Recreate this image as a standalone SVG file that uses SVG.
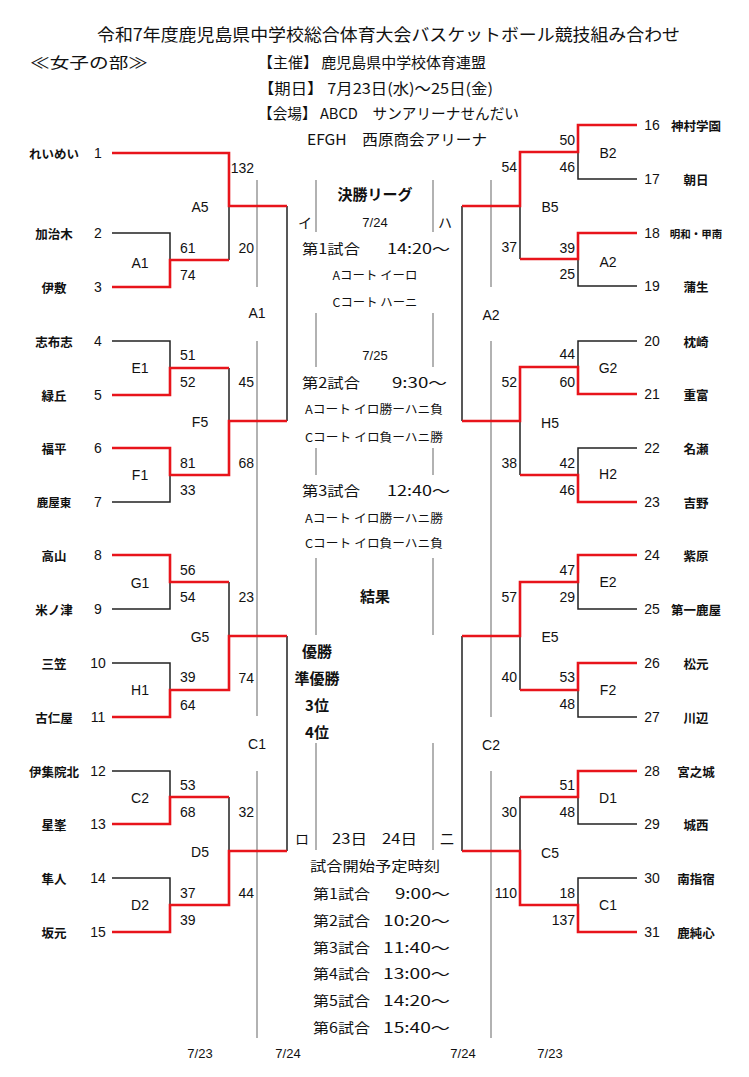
<svg xmlns="http://www.w3.org/2000/svg" width="749" height="1077" viewBox="0 0 749 1077">
<style>
.k{stroke:#222;stroke-width:1.5;fill:none}
.r{stroke:#e8141b;stroke-width:2.6;fill:none}
.g{stroke:#999;stroke-width:1.5;fill:none}
text{font-family:"Liberation Sans","Noto Sans CJK JP",sans-serif;fill:#111;dominant-baseline:central}
.s{font-size:14px}
.m{font-size:14px;text-anchor:middle}
.nm{font-family:"Noto Sans CJK JP",sans-serif;font-size:12.5px;font-weight:bold;text-anchor:middle}
.h{font-family:"Noto Sans CJK JP",sans-serif;font-size:15px}
.c{font-family:"Noto Sans CJK JP",sans-serif;font-size:14px}
.cs{font-family:"Noto Sans CJK JP",sans-serif;font-size:12px;text-anchor:middle}
.b{font-family:"Noto Sans CJK JP",sans-serif;font-size:15px;font-weight:bold;text-anchor:middle}
</style>
<rect width="749" height="1077" fill="#fff"/>
<g id="header">
<text class="h" x="97" y="33" textLength="583" lengthAdjust="spacingAndGlyphs" style="font-size:17px">令和7年度鹿児島県中学校総合体育大会バスケットボール競技組み合わせ</text>
<text class="h" x="30" y="61" textLength="118" lengthAdjust="spacingAndGlyphs">≪女子の部≫</text>
<text class="h" x="258" y="61" textLength="228" lengthAdjust="spacingAndGlyphs">【主催】 鹿児島県中学校体育連盟</text>
<text class="h" x="258" y="87" textLength="235" lengthAdjust="spacingAndGlyphs">【期日】 7月23日(水)～25日(金)</text>
<text class="h" x="258" y="112" textLength="261" lengthAdjust="spacingAndGlyphs">【会場】 ABCD　サンアリーナせんだい</text>
<text class="h" x="307" y="138" textLength="180" lengthAdjust="spacingAndGlyphs">EFGH　西原商会アリーナ</text>
</g>
<g id="guides">
<path class="g" d="M257,180V287M257,341V716M257,771V1038M491,180V287M491,341V717M491,771V1038"/>
<path class="g" d="M316,180V232M316,313V367M316,448V475M316,558V635M316,743V850M433,180V232M433,313V367M433,448V475M433,558V635M433,743V850"/>
</g>
<g id="connectors">
<path class="k" d="M112,233H170V260M112,341H170V368M170,475V502H112M112,609H170V582M112,663H170V690M112,771H170V797M112,878H170V905M229,206V260M229,368V421M229,582V636M229,797V851M287,206V421M287,636V851"/>
<path class="k" d="M637,179H578V152M578,259V286H637M637,341H578V367M637,448H578V475M578,582V609H637M578,690V717H637M578,797V824H637M637,878H578V905M520,206V259M520,421V475M520,636V690M520,797V851M462,206V421M462,636V851"/>
<path class="r" d="M112,153H229V206H287M112,287H170V260H229M112,395H170V368H229M112,448H170V475H229V421H287M112,555H170V582H229M112,717H170V690H229V636H287M112,824H170V797H229M112,932H170V905H229V851H287"/>
<path class="r" d="M637,125H578V152H520V206H462M637,233H578V259H520M637,394H578V367H520V421H462M637,502H578V475H520M637,555H578V582H520V636H462M637,663H578V690H520M637,771H578V797H520M637,932H578V905H520V851H462"/>
</g>
<g id="left-teams">
<text class="nm" x="54" y="153">れいめい</text><text class="m" x="98" y="153">1</text>
<text class="nm" x="54" y="233">加治木</text><text class="m" x="98" y="233">2</text>
<text class="nm" x="54" y="287">伊敷</text><text class="m" x="98" y="287">3</text>
<text class="nm" x="54" y="341">志布志</text><text class="m" x="98" y="341">4</text>
<text class="nm" x="54" y="395">緑丘</text><text class="m" x="98" y="395">5</text>
<text class="nm" x="54" y="448">福平</text><text class="m" x="98" y="448">6</text>
<text class="nm" x="54" y="502" style="font-size:11.5px">鹿屋東</text><text class="m" x="98" y="502">7</text>
<text class="nm" x="54" y="555">高山</text><text class="m" x="98" y="555">8</text>
<text class="nm" x="54" y="609">米ノ津</text><text class="m" x="98" y="609">9</text>
<text class="nm" x="54" y="663">三笠</text><text class="m" x="98" y="663">10</text>
<text class="nm" x="54" y="717">古仁屋</text><text class="m" x="98" y="717">11</text>
<text class="nm" x="54" y="771">伊集院北</text><text class="m" x="98" y="771">12</text>
<text class="nm" x="54" y="824">星峯</text><text class="m" x="98" y="824">13</text>
<text class="nm" x="54" y="878">隼人</text><text class="m" x="98" y="878">14</text>
<text class="nm" x="54" y="932">坂元</text><text class="m" x="98" y="932">15</text>
</g>
<g id="right-teams">
<text class="m" x="652" y="125">16</text><text class="nm" x="696" y="125">神村学園</text>
<text class="m" x="652" y="179">17</text><text class="nm" x="696" y="179">朝日</text>
<text class="m" x="652" y="233">18</text><text class="nm" x="696" y="233" style="font-size:10.5px">明和・甲南</text>
<text class="m" x="652" y="286">19</text><text class="nm" x="696" y="286">蒲生</text>
<text class="m" x="652" y="341">20</text><text class="nm" x="696" y="341">枕崎</text>
<text class="m" x="652" y="394">21</text><text class="nm" x="696" y="394">重富</text>
<text class="m" x="652" y="448">22</text><text class="nm" x="696" y="448">名瀬</text>
<text class="m" x="652" y="502">23</text><text class="nm" x="696" y="502">吉野</text>
<text class="m" x="652" y="555">24</text><text class="nm" x="696" y="555">紫原</text>
<text class="m" x="652" y="609">25</text><text class="nm" x="696" y="609">第一鹿屋</text>
<text class="m" x="652" y="663">26</text><text class="nm" x="696" y="663">松元</text>
<text class="m" x="652" y="717">27</text><text class="nm" x="696" y="717">川辺</text>
<text class="m" x="652" y="771">28</text><text class="nm" x="696" y="771">宮之城</text>
<text class="m" x="652" y="824">29</text><text class="nm" x="696" y="824">城西</text>
<text class="m" x="652" y="878">30</text><text class="nm" x="696" y="878">南指宿</text>
<text class="m" x="652" y="932">31</text><text class="nm" x="696" y="932">鹿純心</text>
</g>
<g id="left-matches">
<text class="m" x="140" y="263">A1</text><text class="s" x="180" y="248">61</text><text class="s" x="180" y="275">74</text>
<text class="m" x="140" y="368">E1</text><text class="s" x="180" y="355">51</text><text class="s" x="180" y="382">52</text>
<text class="m" x="140" y="475">F1</text><text class="s" x="180" y="463">81</text><text class="s" x="180" y="490">33</text>
<text class="m" x="140" y="583">G1</text><text class="s" x="180" y="570">56</text><text class="s" x="180" y="597">54</text>
<text class="m" x="140" y="690">H1</text><text class="s" x="180" y="677">39</text><text class="s" x="180" y="705">64</text>
<text class="m" x="140" y="798">C2</text><text class="s" x="180" y="785">53</text><text class="s" x="180" y="812">68</text>
<text class="m" x="140" y="905">D2</text><text class="s" x="180" y="893">37</text><text class="s" x="180" y="920">39</text>
<text class="m" x="200" y="207">A5</text><text class="s" x="254" y="168" text-anchor="end">132</text><text class="s" x="254" y="248" text-anchor="end">20</text>
<text class="m" x="200" y="422">F5</text><text class="s" x="254" y="382" text-anchor="end">45</text><text class="s" x="254" y="463" text-anchor="end">68</text>
<text class="m" x="200" y="637">G5</text><text class="s" x="254" y="597" text-anchor="end">23</text><text class="s" x="254" y="678" text-anchor="end">74</text>
<text class="m" x="200" y="852">D5</text><text class="s" x="254" y="812" text-anchor="end">32</text><text class="s" x="254" y="893" text-anchor="end">44</text>
<text class="m" x="257" y="313">A1</text><text class="m" x="257" y="744">C1</text>
</g>
<g id="right-matches">
<text class="m" x="608" y="153">B2</text><text class="s" x="575" y="140" text-anchor="end">50</text><text class="s" x="575" y="167" text-anchor="end">46</text>
<text class="m" x="608" y="262">A2</text><text class="s" x="575" y="248" text-anchor="end">39</text><text class="s" x="575" y="274" text-anchor="end">25</text>
<text class="m" x="608" y="368">G2</text><text class="s" x="575" y="354" text-anchor="end">44</text><text class="s" x="575" y="382" text-anchor="end">60</text>
<text class="m" x="608" y="474">H2</text><text class="s" x="575" y="463" text-anchor="end">42</text><text class="s" x="575" y="490" text-anchor="end">46</text>
<text class="m" x="608" y="582">E2</text><text class="s" x="575" y="570" text-anchor="end">47</text><text class="s" x="575" y="597" text-anchor="end">29</text>
<text class="m" x="608" y="690">F2</text><text class="s" x="575" y="677" text-anchor="end">53</text><text class="s" x="575" y="704" text-anchor="end">48</text>
<text class="m" x="608" y="798">D1</text><text class="s" x="575" y="785" text-anchor="end">51</text><text class="s" x="575" y="812" text-anchor="end">48</text>
<text class="m" x="608" y="905">C1</text><text class="s" x="575" y="893" text-anchor="end">18</text><text class="s" x="575" y="920" text-anchor="end">137</text>
<text class="m" x="550" y="207">B5</text><text class="s" x="517" y="167" text-anchor="end">54</text><text class="s" x="517" y="247" text-anchor="end">37</text>
<text class="m" x="550" y="423">H5</text><text class="s" x="517" y="382" text-anchor="end">52</text><text class="s" x="517" y="463" text-anchor="end">38</text>
<text class="m" x="550" y="637">E5</text><text class="s" x="517" y="597" text-anchor="end">57</text><text class="s" x="517" y="677" text-anchor="end">40</text>
<text class="m" x="550" y="853">C5</text><text class="s" x="517" y="812" text-anchor="end">30</text><text class="s" x="517" y="893" text-anchor="end">110</text>
<text class="m" x="491" y="315">A2</text><text class="m" x="491" y="745">C2</text>
</g>
<g id="final-league">
<text class="c" x="305" y="222" text-anchor="middle">イ</text>
<text class="c" x="445" y="222" text-anchor="middle">ハ</text>
<text class="c" x="302" y="838" text-anchor="middle">ロ</text>
<text class="c" x="447" y="838" text-anchor="middle">二</text>
<text class="b" x="375" y="193">決勝リーグ</text>
<text class="m" x="375" y="222" style="font-size:13px">7/24</text>
<text class="c" x="302" y="248" textLength="58" lengthAdjust="spacingAndGlyphs">第1試合</text>
<text class="c" x="450" y="248" text-anchor="end" textLength="63" lengthAdjust="spacingAndGlyphs">14:20～</text>
<text class="cs" x="375" y="274" textLength="85" lengthAdjust="spacingAndGlyphs">Aコート イーロ</text>
<text class="cs" x="375" y="301" textLength="85" lengthAdjust="spacingAndGlyphs">Cコート ハーニ</text>
<text class="m" x="375" y="355" style="font-size:13px">7/25</text>
<text class="c" x="302" y="382" textLength="58" lengthAdjust="spacingAndGlyphs">第2試合</text>
<text class="c" x="447" y="382" text-anchor="end" textLength="55" lengthAdjust="spacingAndGlyphs">9:30～</text>
<text class="cs" x="374" y="408" textLength="138" lengthAdjust="spacingAndGlyphs">Aコート イロ勝ーハニ負</text>
<text class="cs" x="374" y="436" textLength="138" lengthAdjust="spacingAndGlyphs">Cコート イロ負ーハニ勝</text>
<text class="c" x="302" y="490" textLength="58" lengthAdjust="spacingAndGlyphs">第3試合</text>
<text class="c" x="450" y="490" text-anchor="end" textLength="63" lengthAdjust="spacingAndGlyphs">12:40～</text>
<text class="cs" x="374" y="517" textLength="138" lengthAdjust="spacingAndGlyphs">Aコート イロ勝ーハニ勝</text>
<text class="cs" x="374" y="542" textLength="138" lengthAdjust="spacingAndGlyphs">Cコート イロ負ーハニ負</text>
<text class="b" x="375" y="595">結果</text>
<text class="b" x="317" y="650">優勝</text>
<text class="b" x="317" y="677">準優勝</text>
<text class="b" x="317" y="704">3位</text>
<text class="b" x="317" y="731">4位</text>
</g>
<g id="schedule">
<text class="c" x="332" y="838" textLength="35" lengthAdjust="spacingAndGlyphs">23日</text>
<text class="c" x="382" y="838" textLength="35" lengthAdjust="spacingAndGlyphs">24日</text>
<text class="c" x="375" y="865" text-anchor="middle" textLength="130" lengthAdjust="spacingAndGlyphs">試合開始予定時刻</text>
<text class="c" x="313" y="893" textLength="57" lengthAdjust="spacingAndGlyphs">第1試合</text><text class="c" x="450" y="893" text-anchor="end" textLength="55" lengthAdjust="spacingAndGlyphs">9:00～</text>
<text class="c" x="313" y="920" textLength="57" lengthAdjust="spacingAndGlyphs">第2試合</text><text class="c" x="450" y="920" text-anchor="end" textLength="67" lengthAdjust="spacingAndGlyphs">10:20～</text>
<text class="c" x="313" y="947" textLength="57" lengthAdjust="spacingAndGlyphs">第3試合</text><text class="c" x="450" y="947" text-anchor="end" textLength="67" lengthAdjust="spacingAndGlyphs">11:40～</text>
<text class="c" x="313" y="973" textLength="57" lengthAdjust="spacingAndGlyphs">第4試合</text><text class="c" x="450" y="973" text-anchor="end" textLength="67" lengthAdjust="spacingAndGlyphs">13:00～</text>
<text class="c" x="313" y="1000" textLength="57" lengthAdjust="spacingAndGlyphs">第5試合</text><text class="c" x="450" y="1000" text-anchor="end" textLength="67" lengthAdjust="spacingAndGlyphs">14:20～</text>
<text class="c" x="313" y="1027" textLength="57" lengthAdjust="spacingAndGlyphs">第6試合</text><text class="c" x="450" y="1027" text-anchor="end" textLength="67" lengthAdjust="spacingAndGlyphs">15:40～</text>
<text class="m" x="200" y="1053" style="font-size:13px">7/23</text>
<text class="m" x="288" y="1053" style="font-size:13px">7/24</text>
<text class="m" x="463" y="1053" style="font-size:13px">7/24</text>
<text class="m" x="550" y="1053" style="font-size:13px">7/23</text>
</g>
</svg>
